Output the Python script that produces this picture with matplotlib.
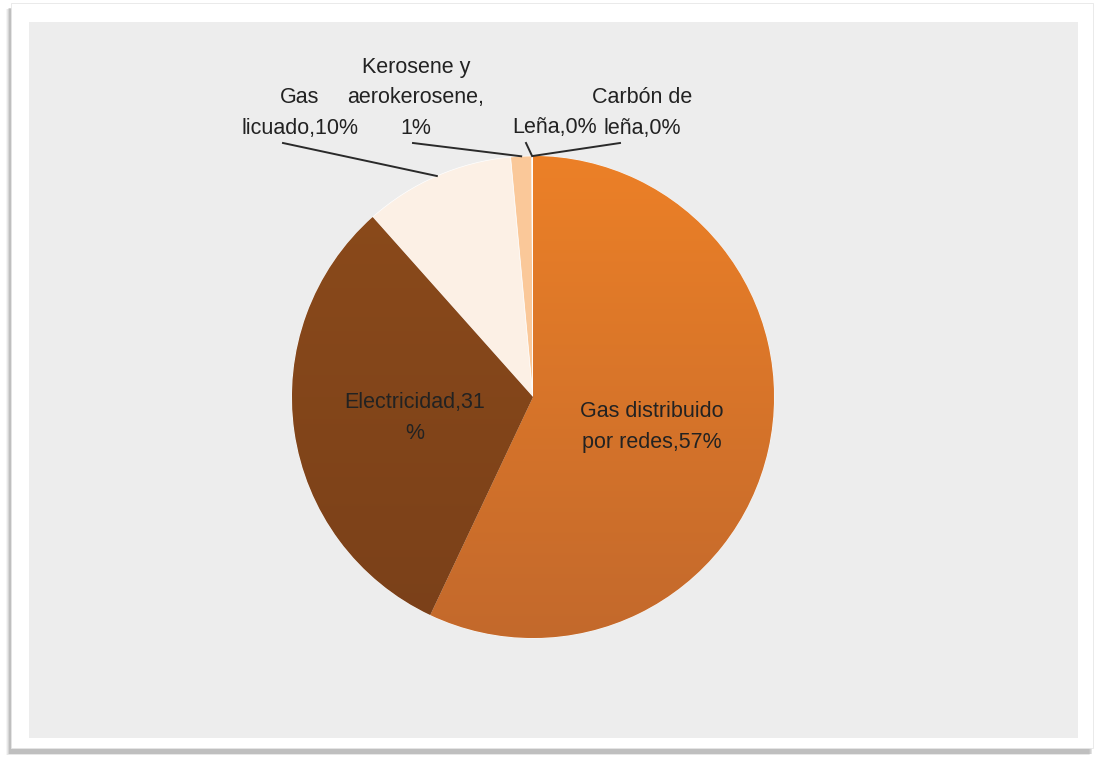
import numpy as np
import matplotlib.pyplot as plt
from matplotlib.patches import Rectangle
from matplotlib.colors import LinearSegmentedColormap

plt.rcParams['font.family'] = ['Liberation Sans', 'DejaVu Sans']

# consumo de energia por fuente (%)
fuentes = ['Gas distribuido por redes', 'Electricidad', 'Gas licuado',
           'Kerosene y aerokerosene', 'Leña', 'Carbón de leña']
valores = [57.0, 31.4, 10.1, 1.4, 0.04, 0.04]
etiquetas = ['Gas distribuido\npor redes,{}%', 'Electricidad,{}\n%', 'Gas\nlicuado,{}%',
             'Kerosene y\naerokerosene,\n{}%', 'Leña,{}%', 'Carbón de\nleña,{}%']
colores = ['#E87D27', '#8A4A1B', '#FCF0E5', '#FAC899', '#F3B27A', '#D9914F']

W, H = 1094, 757
fig = plt.figure(figsize=(W / 100, H / 100), dpi=100)
ax = fig.add_axes([0, 0, 1, 1])

# marco blanco con sombra y panel gris
for i, a in enumerate([0.06, 0.09, 0.13, 0.18]):
    d = 4 - i
    ax.add_patch(Rectangle((10 - d, 4 - d * 0.5), 1083, 746, facecolor='#606060',
                           edgecolor='none', alpha=a, zorder=0))
ax.add_patch(Rectangle((11, 9), 1082, 745, facecolor='white', edgecolor='#e6e6e6', lw=0.6, zorder=1))
ax.add_patch(Rectangle((29, 19), 1049, 716, facecolor='#EDEDED', edgecolor='none', zorder=2))

cx, cy, r = 533, 360, 241
wedges, _ = ax.pie(valores, colors=colores, startangle=90, counterclock=False,
                   center=(cx, cy), radius=r, frame=True,
                   wedgeprops=dict(linewidth=0.5, edgecolor='#FFFFFF'))
for w in wedges:
    w.set_zorder(3)
ax.set_xlim(0, W)
ax.set_ylim(0, H)
ax.set_aspect('equal')
ax.axis('off')

# sombreado suave en las dos porciones grandes
for w, (c1, c2) in zip(wedges[:2], [('#EC8027', '#C3692C'), ('#8C4B1B', '#7A4019')]):
    cmap = LinearSegmentedColormap.from_list('g', [c2, c1])
    grad = np.linspace(0, 1, 256).reshape(-1, 1)
    im = ax.imshow(grad, cmap=cmap, extent=(cx - r, cx + r, cy - r, cy + r),
                   origin='lower', aspect='auto', zorder=3.5)
    im.set_clip_path(w)

txt = dict(fontsize=15.5, color='#222222', ha='center', va='center', linespacing=1.62, zorder=6)
pct = [int(round(v)) for v in valores]

# etiquetas interiores
ax.text(652, H - 427, etiquetas[0].format(pct[0]), **txt)
ax.text(415, H - 418, etiquetas[1].format(pct[1]), **txt)

# etiquetas exteriores con lineas guia
externas = [
    (2, (300, H - 113), (283, H - 143)),
    (3, (416, H - 98), (413, H - 143)),
    (4, (555, H - 128), (526, H - 143)),
    (5, (642, H - 113), (620, H - 143)),
]
for idx, pos, inicio in externas:
    w = wedges[idx]
    ang = np.deg2rad((w.theta1 + w.theta2) / 2)
    punta = (cx + r * np.cos(ang), cy + r * np.sin(ang))
    ax.plot([inicio[0], punta[0]], [inicio[1], punta[1]], color='#2a2a2a', lw=1.4, zorder=5)
    ax.text(pos[0], pos[1], etiquetas[idx].format(pct[idx]), **txt)

fig.savefig('out.png', dpi=100)
